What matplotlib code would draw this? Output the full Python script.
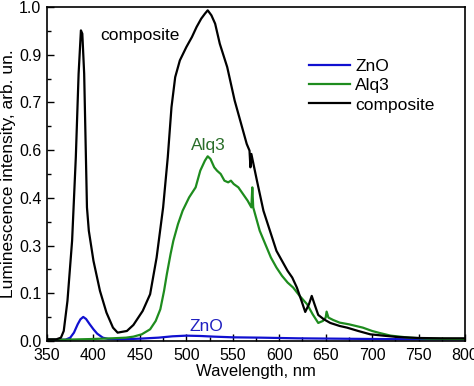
import numpy as np
import matplotlib
matplotlib.use("Agg")
import matplotlib.pyplot as plt
from matplotlib.ticker import FixedLocator, MultipleLocator, FuncFormatter

plt.rcParams['font.family'] = ['Liberation Sans', 'DejaVu Sans']

# ZnO
znoWl = [350, 370, 375, 379, 383, 386, 389, 392, 396, 400, 404, 410, 416, 430, 450,
         470, 485, 500, 515, 530, 550, 580, 620, 660, 700, 750, 800]
znoVal = [0.003, 0.004, 0.01, 0.025, 0.05, 0.065, 0.072, 0.066, 0.05, 0.035, 0.022, 0.01,
          0.006, 0.005, 0.007, 0.01, 0.014, 0.016, 0.015, 0.013, 0.011, 0.01, 0.008,
          0.007, 0.006, 0.005, 0.005]

# Alq3
alqWl = [350, 370, 400, 420, 435, 443, 452, 461, 467, 472, 476, 479, 483, 486, 491, 496,
         503, 510, 515, 520, 523, 526, 530, 533, 537, 541, 545, 548, 551, 556, 561, 566,
         570, 571, 572, 576, 579, 585, 591, 597, 603, 609, 615, 622, 630, 636, 642, 647,
         650, 651, 653, 658, 665, 675, 690, 700, 708, 720, 740, 760, 800]
alqVal = [0.004, 0.004, 0.006, 0.008, 0.01, 0.013, 0.02, 0.035, 0.06, 0.095, 0.15, 0.2,
          0.26, 0.3, 0.35, 0.39, 0.43, 0.46, 0.51, 0.54, 0.553, 0.545, 0.52, 0.51, 0.5,
          0.48, 0.475, 0.48, 0.47, 0.46, 0.44, 0.42, 0.40, 0.46, 0.40, 0.36, 0.33, 0.29,
          0.25, 0.22, 0.195, 0.175, 0.16, 0.135, 0.11, 0.08, 0.054, 0.06, 0.07, 0.088,
          0.07, 0.063, 0.055, 0.05, 0.04, 0.03, 0.024, 0.016, 0.01, 0.007, 0.006]

# composite
compWl = [350, 360, 365, 368, 372, 377, 381, 384, 386.5, 388, 390, 391.5, 393, 395, 400,
          407, 414, 421, 426, 436, 443, 453, 461, 468, 475, 480, 484, 488, 493, 500, 506,
          511, 516, 520, 523, 527, 531, 536, 544, 552, 558, 565, 568, 569, 570, 576, 583,
          590, 597, 603, 609, 614, 619, 624, 628, 632, 635, 638, 642, 648, 655, 665, 673,
          685, 698, 712, 727, 750, 775, 800]
compVal = [0.005, 0.005, 0.01, 0.03, 0.12, 0.3, 0.55, 0.8, 0.93, 0.92, 0.8, 0.6, 0.4,
           0.33, 0.24, 0.15, 0.085, 0.04, 0.025, 0.03, 0.048, 0.09, 0.14, 0.25, 0.40,
           0.55, 0.7, 0.79, 0.84, 0.88, 0.91, 0.94, 0.965, 0.98, 0.99, 0.975, 0.95, 0.89,
           0.82, 0.72, 0.66, 0.59, 0.57, 0.52, 0.56, 0.48, 0.39, 0.33, 0.27, 0.24, 0.21,
           0.19, 0.16, 0.12, 0.087, 0.11, 0.135, 0.11, 0.078, 0.065, 0.054, 0.045, 0.04,
           0.03, 0.02, 0.016, 0.012, 0.009, 0.008, 0.008]

yTicks = [k / 7 for k in range(8)]

fig = plt.figure(figsize=(4.74, 3.86), dpi=100)
ax = fig.add_axes([0.0992, 0.1166, 0.8818, 0.8653])

ax.plot(znoWl, znoVal, color='#1010d0', lw=1.6, label='ZnO')
ax.plot(alqWl, alqVal, color='#1e8c1e', lw=1.6, label='Alq3')
ax.plot(compWl, compVal, color='black', lw=1.6, label='composite')

ax.set_xlim(350, 800)
ax.set_ylim(0, 1.0)
ax.xaxis.set_major_locator(MultipleLocator(50))
ax.xaxis.set_minor_locator(MultipleLocator(25))
ax.yaxis.set_major_locator(FixedLocator(yTicks))
ax.yaxis.set_minor_locator(FixedLocator([k / 14 for k in range(15)]))
ax.yaxis.set_major_formatter(FuncFormatter(lambda v, p: '%.1f' % v))
ax.tick_params(which='both', direction='in', top=False, right=False, labelsize=11.5)
ax.tick_params(axis='x', pad=5)
ax.tick_params(axis='y', pad=4)
ax.tick_params(which='major', length=5, width=1.0)
ax.tick_params(which='minor', length=3, width=1.0)
for s in ax.spines.values():
    s.set_linewidth(1.2)

ax.set_xlabel('Wavelength, nm', fontsize=12, labelpad=1)
ax.set_ylabel('Luminescence intensity, arb. un.', fontsize=12.5, labelpad=2)

ax.text(0.127, 0.916, 'composite', transform=ax.transAxes, fontsize=12.5, va='center')
ax.text(0.387, 0.585, 'Alq3', transform=ax.transAxes, color='#2a6e2a', fontsize=12.5, ha='center', va='center')
ax.text(0.382, 0.042, 'ZnO', transform=ax.transAxes, color='#2020c0', fontsize=12.5, ha='center', va='center')

ax.legend(loc='upper left', bbox_to_anchor=(0.627, 0.845), frameon=False, fontsize=12.5,
          handlelength=2.36, handletextpad=0.3, labelspacing=0.24, borderpad=0, borderaxespad=0)

fig.savefig('out.png', dpi=100)
